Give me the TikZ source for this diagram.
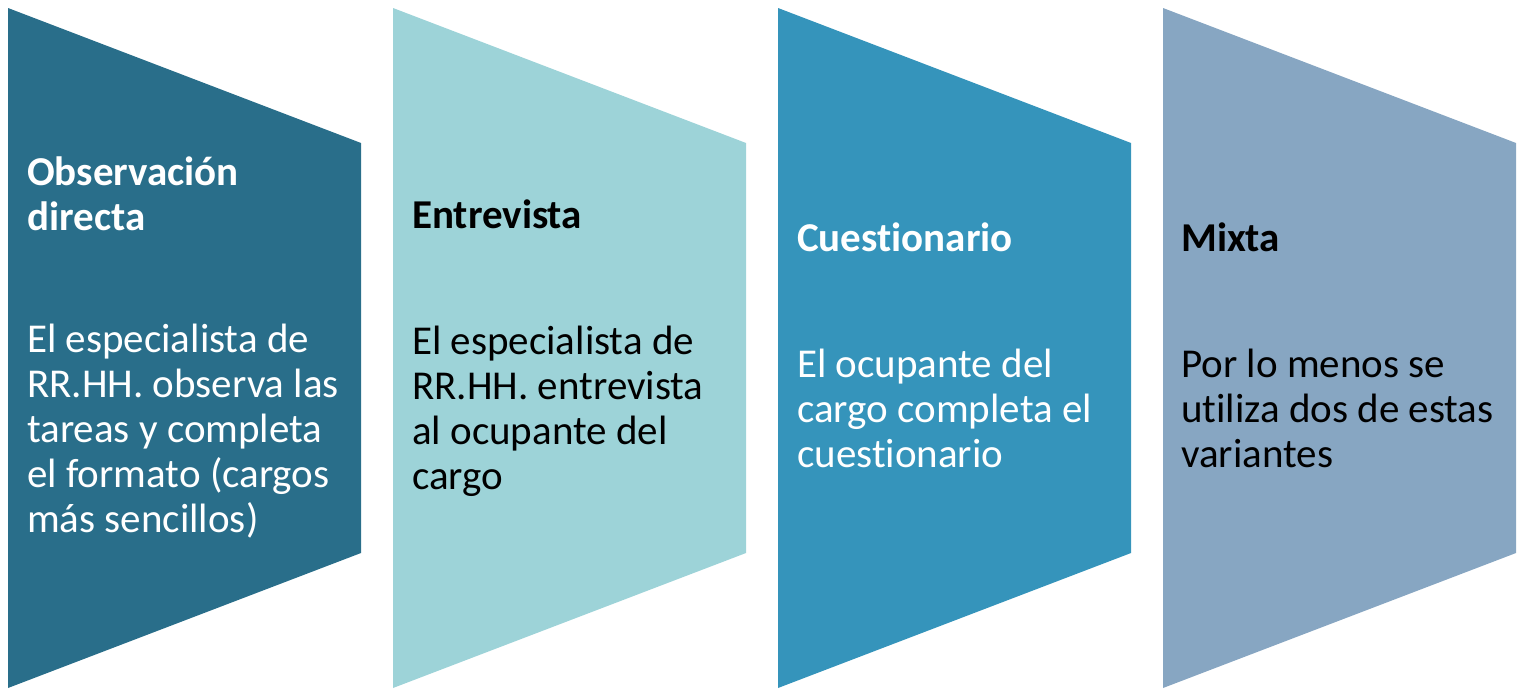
\documentclass[tikz,border=0pt]{standalone}
\usepackage{fontspec}
\setmainfont{Carlito}[Ligatures={NoCommon}]
\definecolor{cA}{HTML}{296E8A}
\definecolor{cB}{HTML}{9DD3D8}
\definecolor{cC}{HTML}{3594BB}
\definecolor{cD}{HTML}{87A6C2}
\tikzset{
  chev/.style={fill=#1, draw=none},
  lbl/.style={anchor=base west, inner sep=0pt, text=#1,
    font=\fontsize{41pt}{45pt}\selectfont}
}
\newcommand{\stagetext}[3]{\parbox[t]{360pt}{\raggedright\bfseries #1\\[#2]\mdseries #3}}
\begin{document}
\begin{tikzpicture}[x=1pt,y=-1pt]
\useasboundingbox (0,0) rectangle (1530,696);
\foreach \i/\c in {0/cA,1/cB,2/cC,3/cD}{
  \path[chev=\c] ({8+385*\i},8) -- ({361+385*\i},143) -- ({361+385*\i},553) -- ({8+385*\i},688) -- cycle;
}
\node[lbl=white] (t1) at (27,185) {\stagetext{Observación\\directa}{77pt}{El especialista de\\RR.HH. observa las\\tareas y completa\\el formato (cargos\\más sencillos)}};
\node[lbl=black] (t2) at (412,228) {\stagetext{Entrevista}{81pt}{El especialista de\\RR.HH. entrevista\\al ocupante del\\cargo}};
\node[lbl=white] (t3) at (797,251) {\stagetext{Cuestionario}{81pt}{El ocupante del\\cargo completa el\\cuestionario}};
\node[lbl=black] (t4) at (1181,251) {\stagetext{Mixta}{81pt}{Por lo menos se\\utiliza dos de estas\\variantes}};
\end{tikzpicture}
\end{document}
